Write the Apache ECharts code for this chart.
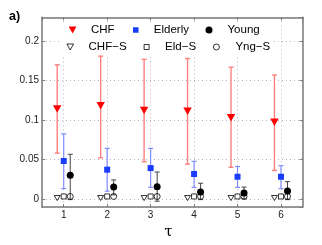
<!DOCTYPE html>
<html>
<head>
<meta charset="utf-8">
<script src="https://cdn.jsdelivr.net/npm/echarts@6/dist/echarts.min.js"></script>
<style>html,body{margin:0;padding:0;background:#fff}#c{width:322px;height:245px}</style>
</head>
<body>
<div id="c"></div>
<script>
const taus = [1, 2, 3, 4, 5, 6];
const chfMean = [0.114, 0.118, 0.112, 0.111, 0.103, 0.097];
const chfLow  = [0.058, 0.052, 0.047, 0.044, 0.040, 0.036];
const chfHigh = [0.170, 0.181, 0.177, 0.178, 0.167, 0.157];
const eldMean = [0.048, 0.037, 0.039, 0.0315, 0.028, 0.028];
const eldLow  = [0.013, 0.0097, 0.0145, 0.0145, 0.0145, 0.013];
const eldHigh = [0.0824, 0.064, 0.064, 0.0476, 0.041, 0.042];
const yngMean = [0.030, 0.015, 0.0153, 0.0088, 0.0073, 0.010];
const yngLow  = [-0.001, 0.005, -0.003, -0.001, 0.000, -0.001];
const yngHigh = [0.0565, 0.024, 0.034, 0.0198, 0.0149, 0.0218];
const chfS = [0.001, 0.001, 0.001, 0.001, 0.001, 0.001];
const eldS = [0.003, 0.003, 0.003, 0.003, 0.003, 0.003];
const yngS = [0.003, 0.003, 0.003, 0.003, 0.003, 0.003];
const names = ['CHF', 'Elderly', 'Young', 'CHF\u2212S', 'Eld\u2212S', 'Yng\u2212S'];

const OFF = [-0.15, 0, 0.15];
const triDown = 'path://M0,0 L10,0 L5,9 Z';

function pts(vals, off) { return taus.map((t, i) => [t + off, vals[i]]); }
function errData(lo, hi, off) { return taus.map((t, i) => [t + off, lo[i], hi[i]]); }
function errSeries(lo, hi, off, color, w) {
  return {
    type: 'custom', z: 2, silent: true,
    data: errData(lo, hi, off),
    encode: {x: 0, y: [1, 2]},
    renderItem: function (params, api) {
      const x = api.value(0);
      const a = api.coord([x, api.value(1)]);
      const b = api.coord([x, api.value(2)]);
      const hw = 2.5;
      const st = {stroke: color, lineWidth: w};
      return {type: 'group', children: [
        {type: 'line', shape: {x1: a[0], y1: a[1], x2: b[0], y2: b[1]}, style: st},
        {type: 'line', shape: {x1: a[0] - hw, y1: a[1], x2: a[0] + hw, y2: a[1]}, style: st},
        {type: 'line', shape: {x1: b[0] - hw, y1: b[1], x2: b[0] + hw, y2: b[1]}, style: st}
      ]};
    }
  };
}

const frame = '#7a7a7a';
const font = '"Liberation Sans", Arial, sans-serif';
function valAxis(base, pos, main) {
  return Object.assign({
    type: 'value', position: pos,
    axisLine: {show: true, onZero: false, lineStyle: {color: frame, width: 1.5}},
    axisTick: {show: true, inside: true, length: 3, lineStyle: {color: frame, width: 1}},
    axisLabel: main ? {show: true, fontSize: 10, color: '#222', fontFamily: font, margin: 3,
      showMinLabel: false, showMaxLabel: false} : {show: false},
    splitLine: main ? {show: true, lineStyle: {color: '#b5b5b5', type: [1, 3], width: 1}} : {show: false}
  }, base);
}

function legend(name, icon, left, top, w, h, pad, hollow) {
  const item = {name: name, icon: icon};
  if (hollow) item.itemStyle = {color: '#fff', borderColor: '#000', borderWidth: 0.8};
  return {
    data: [item], left: left, top: top, padding: 0,
    itemWidth: w, itemHeight: h, selectedMode: false,
    textStyle: {fontSize: 11.5, color: '#000', fontFamily: font, padding: [0, 0, 0, pad]}
  };
}

const chart = echarts.init(document.getElementById('c'), null, {renderer: 'canvas'});
chart.setOption({
  animation: false,
  backgroundColor: '#fff',
  title: {text: 'a)', left: 9, top: 10, padding: 0, textStyle: {fontSize: 12.5, fontWeight: 'bold', color: '#000', fontFamily: font}},
  grid: {left: 42, right: 19.3, top: 17.3, bottom: 29},
  graphic: [{type: 'rect', z: 1, shape: {x: 62, y: 24, width: 212, height: 31}, style: {fill: '#fff'}}],
  xAxis: [
    valAxis({min: 0.5, max: 6.5, splitNumber: 6, name: '\u03c4', nameLocation: 'middle', nameGap: 5,
      nameTextStyle: {fontSize: 15, color: '#000', fontFamily: '"DejaVu Serif", serif', padding: [0, 8, 0, 0]}}, 'bottom', true),
    valAxis({min: 0.5, max: 6.5, splitNumber: 6}, 'top', false)
  ],
  yAxis: [
    valAxis({min: -0.0105, max: 0.2303, splitNumber: 5}, 'left', true),
    valAxis({min: -0.0105, max: 0.2303, splitNumber: 5}, 'right', false)
  ],
  legend: [
    legend(names[0], triDown, 68.7, 24, 8, 7, 9.3, false),
    legend(names[1], 'rect', 133, 24, 5.5, 5.5, 10.3, false),
    legend(names[2], 'circle', 205.5, 24, 7, 7, 10, false),
    legend(names[3], triDown, 66.5, 41, 7, 6, 9.8, true),
    legend(names[4], 'rect', 143.7, 41, 5, 5, 11, true),
    legend(names[5], 'circle', 213, 41, 6, 6, 11, true)
  ],
  series: [
    errSeries(chfLow, chfHigh, OFF[0], '#ff8080', 1.4),
    errSeries(eldLow, eldHigh, OFF[1], '#7f8cff', 1.2),
    errSeries(yngLow, yngHigh, OFF[2], '#444', 1),
    {name: names[0], type: 'scatter', z: 3, symbol: triDown, symbolSize: [8.5, 7.5], data: pts(chfMean, OFF[0]),
      itemStyle: {color: '#ff0000', opacity: 1}},
    {name: names[1], type: 'scatter', z: 3, symbol: 'rect', symbolSize: 6, data: pts(eldMean, OFF[1]),
      itemStyle: {color: '#1a3cff', opacity: 1}},
    {name: names[2], type: 'scatter', z: 3, symbol: 'circle', symbolSize: 7, data: pts(yngMean, OFF[2]),
      itemStyle: {color: '#000', opacity: 1}},
    {name: names[3], type: 'scatter', z: 3, symbol: triDown, symbolSize: [6, 5], data: pts(chfS, OFF[0]),
      itemStyle: {color: '#fff', borderColor: '#000', borderWidth: 0.8, opacity: 1}},
    {name: names[4], type: 'scatter', z: 3, symbol: 'rect', symbolSize: 5, data: pts(eldS, OFF[1]),
      itemStyle: {color: '#fff', borderColor: '#000', borderWidth: 0.8, opacity: 1}},
    {name: names[5], type: 'scatter', z: 3, symbol: 'circle', symbolSize: 6, data: pts(yngS, OFF[2]),
      itemStyle: {color: 'rgba(255,255,255,0)', borderColor: '#000', borderWidth: 0.8, opacity: 1}}
  ]
});
</script>
</body>
</html>
